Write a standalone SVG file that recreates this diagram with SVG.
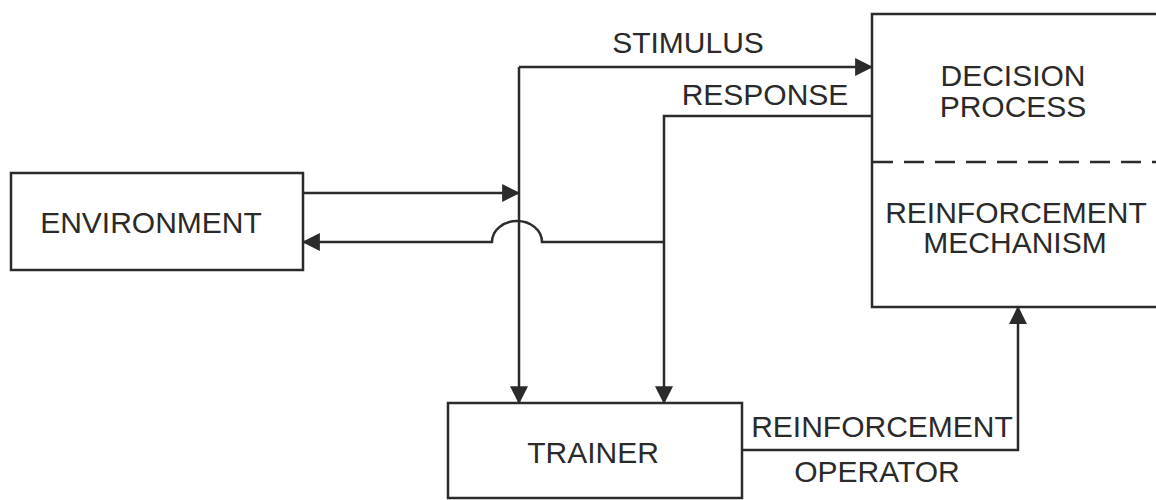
<svg xmlns="http://www.w3.org/2000/svg" width="1156" height="500" viewBox="0 0 1156 500">
  <style>
    .box { fill: #ffffff; stroke: #2b2b2b; stroke-width: 2.5; }
    .wire { fill: none; stroke: #2b2b2b; stroke-width: 2.5; }
    .dash { fill: none; stroke: #2b2b2b; stroke-width: 2.5; stroke-dasharray: 20 11; }
    .lbl { font-family: "Liberation Sans", Arial, sans-serif; font-size: 30px; fill: #2a2a2a; text-anchor: middle; }
  </style>
  <defs>
    <marker id="arrow" markerUnits="userSpaceOnUse" markerWidth="18" markerHeight="18" viewBox="0 0 16 16" refX="15" refY="8" orient="auto">
      <path d="M0,0 L16,8 L0,16 Z" fill="#2b2b2b"/>
    </marker>
  </defs>

  <rect width="1156" height="500" fill="#ffffff"/>

  <!-- nodes -->
  <g id="environment">
    <rect class="box" x="11" y="173" width="292" height="97"/>
    <text class="lbl" x="151" y="233">ENVIRONMENT</text>
  </g>

  <g id="learner">
    <rect class="box" x="872" y="14" width="300" height="293"/>
    <path class="dash" d="M873,162 H1156"/>
    <text class="lbl" x="1013" y="86">DECISION</text>
    <text class="lbl" x="1013" y="117">PROCESS</text>
    <text class="lbl" x="1016" y="223">REINFORCEMENT</text>
    <text class="lbl" x="1015" y="253">MECHANISM</text>
  </g>

  <g id="trainer">
    <rect class="box" x="448" y="403" width="294" height="95"/>
    <text class="lbl" x="593" y="463">TRAINER</text>
  </g>

  <!-- connectors -->
  <g id="connectors">
    <path class="wire" d="M303,193 H519" marker-end="url(#arrow)"/>
    <path class="wire" d="M519,67 H872" marker-end="url(#arrow)"/>
    <path class="wire" d="M519,67 V403" marker-end="url(#arrow)"/>
    <path class="wire" d="M872,116 H664 V403" marker-end="url(#arrow)"/>
    <path class="wire" d="M664,242 H542 A25,21 0 0 0 492,242 H303" marker-end="url(#arrow)"/>
    <path class="wire" d="M742,450 H1018 V307" marker-end="url(#arrow)"/>
    <text class="lbl" x="688" y="53">STIMULUS</text>
    <text class="lbl" x="765" y="105">RESPONSE</text>
    <text class="lbl" x="882" y="437">REINFORCEMENT</text>
    <text class="lbl" x="877" y="482">OPERATOR</text>
  </g>
</svg>
